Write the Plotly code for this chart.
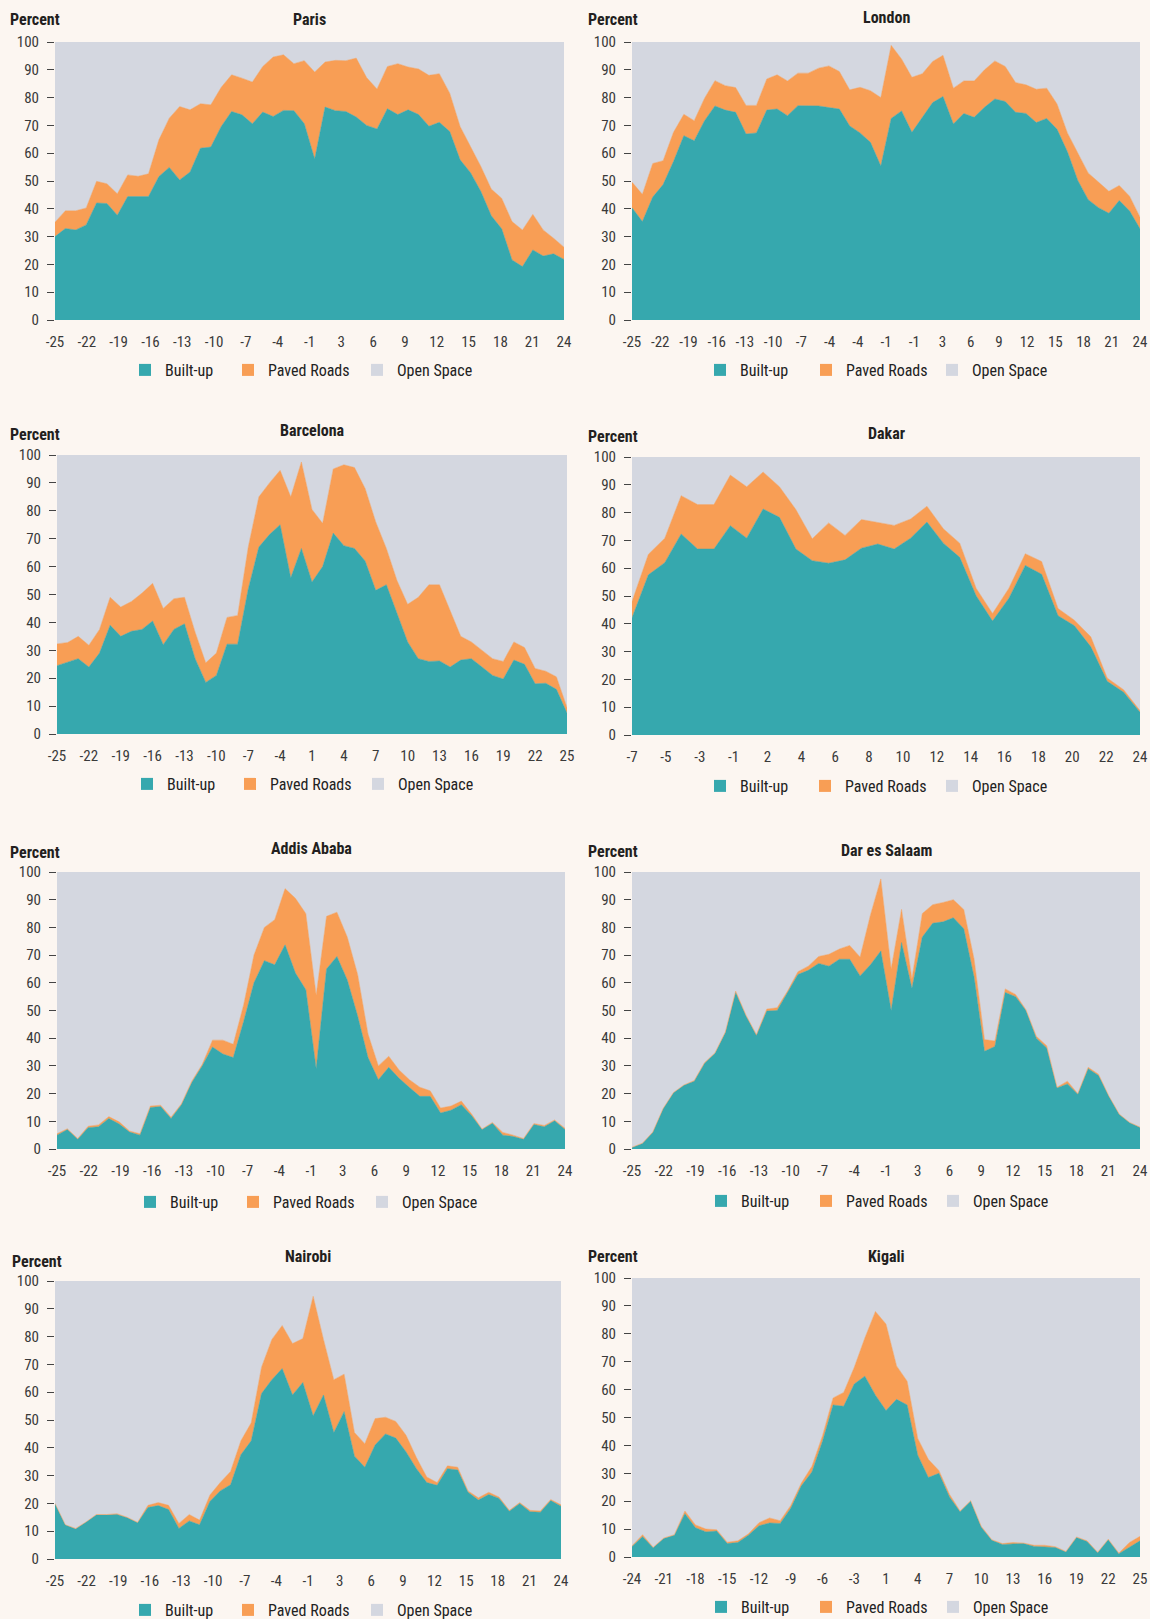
import numpy as np
import plotly.graph_objects as go

W, H = 1150, 1619
TEAL = "#36A8AE"
ORANGE = "#F89E55"
GREY = "#D4D7E0"
BG = "#FCF6F1"
FONT = "Liberation Sans Narrow, Roboto Condensed, DejaVu Sans Condensed, Arial Narrow, sans-serif"

series_names = ["Built-up", "Paved Roads", "Open Space"]

# ---------------- data (percent of area, by distance from centre) ----------------
paris_ticks = [-25, -22, -19, -16, -13, -10, -7, -4, -1, 3, 6, 9, 12, 15, 18, 21, 24]
paris_built = [30, 32.9, 32.4, 34.2, 42.1, 41.9, 37.7, 44.4, 44.4, 44.4,
               51.6, 54.9, 50.4, 53.2, 61.8, 62.2, 69.6, 75, 73.8, 70.6,
               74.8, 73.2, 75.4, 75.3, 70.6, 57.9, 76.6, 75.3, 75, 73,
               70, 68.7, 76, 73.9, 75.6, 73.9, 69.7, 71.1, 67.8, 57.6,
               53, 46.2, 37.5, 32.8, 21.6, 19.2, 25.2, 23, 23.8, 21.8]
paris_paved = [5.2, 6.4, 6.9, 6.1, 7.8, 7.1, 7.7, 7.8, 7.3, 8.2,
               13.2, 17.7, 26.4, 22.4, 16, 15.2, 14.1, 13.2, 13.2, 15,
               16.4, 21.4, 20, 16.9, 22.7, 31.3, 16.2, 18.1, 18.3, 21.2,
               17.2, 14.4, 15.2, 18.3, 15.4, 16.4, 18.3, 17.5, 13.8, 12,
               9.4, 9, 9.6, 11, 13.8, 13.2, 12.8, 9.4, 5.6, 4.4]

london_ticks = [-25, -22, -19, -16, -13, -10, -7, -4, -4, -1, -1, 3, 6, 9, 12, 15, 18, 21, 24]
london_built = [40.4, 35.4, 44.2, 48.7, 57, 66.3, 64.5, 71.7, 77, 75.5,
                74.7, 66.9, 67.3, 75.5, 75.9, 73.5, 77.1, 77, 77, 76.4,
                75.9, 69.8, 67.3, 63.9, 55.4, 72.5, 75.2, 67.5, 72.8, 78.2,
                80.4, 70.5, 74.3, 72.9, 76.5, 79.5, 78.6, 74.7, 74.3, 71,
                72.5, 68.6, 60.5, 50.2, 43.3, 40.4, 38.4, 43, 39.2, 32.8]
london_paved = [9.2, 9.8, 12.1, 8.6, 10.5, 7.7, 7.2, 8.1, 9.1, 8.8,
                8.9, 10.3, 9.9, 11.2, 12.3, 12.5, 11.7, 11.8, 13.6, 15,
                13.5, 13, 16.4, 18.6, 24.6, 26.3, 18.7, 19.8, 15.8, 14.8,
                14.8, 12.9, 11.7, 13.1, 13.5, 13.7, 12.6, 10.7, 10.3, 12,
                10.9, 9.1, 6.8, 9.7, 9.6, 9.2, 7.9, 5.4, 5.3, 4.2]

barcelona_ticks = [-25, -22, -19, -16, -13, -10, -7, -4, 1, 4, 7, 10, 13, 16, 19, 22, 25]
barcelona_built = [24.5, 25.7, 27, 24, 29, 39, 35, 36.8, 37.5, 40.5,
                   32, 37.5, 39.5, 27, 18.5, 21, 32.2, 32.2, 52, 67,
                   71.5, 75, 56, 66.5, 54.5, 60, 72, 67.5, 66.5, 62,
                   51.5, 53.5, 43, 33, 27, 26, 26.2, 24, 26.5, 27,
                   24, 21, 19.7, 26.5, 25, 18, 18.2, 16, 7.5]
barcelona_paved = [7.8, 7.1, 8, 7.8, 8.5, 10, 10.5, 10.7, 13, 13.5,
                   13, 11, 9.5, 9.5, 7, 8, 9.6, 10.3, 15, 18,
                   18.5, 19.5, 29, 31, 26, 15.5, 23, 29, 29, 26,
                   24.5, 13, 12, 13.5, 22, 27.5, 27.3, 20.5, 8.5, 6,
                   6, 6, 6.3, 6.5, 6, 5.5, 4.3, 4.5, 2]

dakar_ticks = [-7, -5, -3, -1, 2, 4, 6, 8, 10, 12, 14, 16, 18, 20, 22, 24]
dakar_built = [42.2, 57.6, 62, 72.3, 66.9, 66.9, 75.3, 70.8, 81.3, 78.3,
               66.9, 62.7, 61.8, 63, 67.2, 68.7, 66.9, 70.8, 76.6, 69,
               63.9, 50.1, 41, 49.2, 61, 57.8, 42.9, 39.3, 31.7, 19.3,
               15.4, 8.2]
dakar_paved = [5.8, 7.4, 8.8, 13.8, 16, 16, 18.2, 18.5, 13.3, 11,
               14.2, 7.9, 14.5, 8.8, 10.3, 7.7, 8.5, 6.9, 5.7, 5.2,
               5.1, 2.7, 2.7, 3.6, 4.2, 4.6, 2.6, 2, 3.6, 1.2,
               0.9, 0.6]

addis_ticks = [-25, -22, -19, -16, -13, -10, -7, -4, -1, 3, 6, 9, 12, 15, 18, 21, 24]
addis_built = [5, 7, 3.5, 7.7, 8, 11, 9, 6.1, 5, 15,
               15.3, 11, 16, 24, 30, 36.8, 34.3, 33, 46, 60,
               68, 66.5, 73.7, 63.5, 57.5, 29, 65, 69.5, 61, 48,
               33, 25, 29.5, 25.5, 22.2, 19, 19, 13, 14, 16,
               12, 7, 9.3, 5, 4.5, 3.5, 8.8, 8, 10.2, 7]
addis_paved = [0.5, 0.3, 0.3, 0.5, 0.7, 0.7, 0.8, 0.4, 0.5, 0.5,
               0.5, 0.5, 0.3, 0.5, 0.5, 2.5, 5, 4.8, 6, 10,
               12, 16.3, 20.3, 27, 27.5, 26.5, 19, 16, 15.5, 15,
               8.5, 5, 4, 3, 2.8, 3.3, 2, 1.8, 1.5, 1.3,
               0.6, 0.2, 0.3, 1, 0.5, 0.3, 0.4, 0.5, 0.3, 0.5]

dar_ticks = [-25, -22, -19, -16, -13, -10, -7, -4, -1, 3, 6, 9, 12, 15, 18, 21, 24]
dar_built = [0.5, 2, 6, 14.5, 20.3, 23, 24.5, 31, 34.5, 42,
             56.5, 48, 41, 49.8, 50, 56.5, 63, 64.5, 67, 66,
             68.5, 68.5, 62.5, 66.5, 71.5, 50, 74.5, 58, 76.5, 81.5,
             82, 83.5, 79.5, 62, 35.3, 37, 56.5, 55, 50, 40,
             36.5, 22, 23.5, 19.8, 29, 26.5, 19, 12.5, 9.5, 7.8]
dar_paved = [0.1, 0.1, 0.1, 0.1, 0.1, 0.1, 0.2, 0.2, 0.2, 0.2,
             0.5, 0.3, 0.3, 0.7, 1, 0.5, 1, 1.5, 2.5, 4.3,
             3.7, 5, 6.8, 18, 26, 15, 12, 3.5, 8.5, 6.7,
             7, 6.5, 7, 6.5, 4.2, 2, 1.3, 0.8, 0.3, 0.7,
             0.8, 0.3, 1, 0.2, 0.5, 0.5, 0.1, 0.1, 0.1, 0.1]

nairobi_ticks = [-25, -22, -19, -16, -13, -10, -7, -4, -1, 3, 6, 9, 12, 15, 18, 21, 24]
nairobi_built = [20, 12.3, 10.8, 13.2, 15.8, 15.8, 16, 14.8, 13, 18.5,
                 19.2, 17.8, 11, 13.7, 12.3, 20.7, 24.5, 26.7, 37.5, 42.5,
                 59.5, 64.5, 68.5, 59, 63.5, 51.5, 59, 45.5, 53, 37,
                 33, 41, 45, 43.5, 38.5, 32.5, 27.5, 26.5, 32.5, 32,
                 24, 21.2, 23.2, 21.8, 17.2, 20, 17, 16.8, 21, 19]
nairobi_paved = [0, 0, 0.2, 0.1, 0.2, 0.2, 0.3, 0.2, 0.2, 0.8,
                 1.1, 1.5, 1.8, 2.3, 1.7, 2.3, 3, 4.8, 5, 6.5,
                 9.5, 14.5, 15.5, 18.5, 15.8, 43, 20, 19, 13.5, 8.5,
                 8.5, 9.5, 6, 6, 6, 4, 2, 1, 1, 1,
                 0.5, 0.8, 0.8, 0.5, 0.3, 0.3, 0.5, 0.5, 0.4, 0.5]

kigali_ticks = [-24, -21, -18, -15, -12, -9, -6, -3, 1, 4, 7, 10, 13, 16, 19, 22, 25]
kigali_built = [3.8, 7.3, 3.3, 6.6, 7.8, 15.5, 10.5, 9, 9.3, 4.8,
                5.2, 7.8, 11.2, 12.2, 12, 17.5, 25.5, 30.5, 41.5, 54.5,
                54, 62, 64.8, 58, 52.5, 56.5, 54.5, 36.5, 28.5, 30,
                21.5, 16.2, 20, 10.7, 6, 4.5, 4.7, 4.8, 3.8, 3.6,
                3.4, 1.8, 7, 5.6, 1.5, 6.2, 1.2, 3.5, 5.8]
kigali_paved = [0.2, 0.7, 0.2, 0.2, 0.2, 1, 1, 1, 0.5, 0.5,
                0.6, 0.5, 1.1, 1.8, 1, 1, 1, 2, 2, 2.5,
                5, 6, 13.7, 30, 31, 12, 8.5, 6, 6.5, 1,
                1, 0.3, 0.2, 0.3, 0.2, 0.3, 0.5, 0.2, 0.4, 0.6,
                0.3, 0.2, 0.2, 0.2, 0.2, 0.2, 0.2, 1.7, 1.6]

cities = [
    ("Paris", paris_ticks, paris_built, paris_paved),
    ("London", london_ticks, london_built, london_paved),
    ("Barcelona", barcelona_ticks, barcelona_built, barcelona_paved),
    ("Dakar", dakar_ticks, dakar_built, dakar_paved),
    ("Addis Ababa", addis_ticks, addis_built, addis_paved),
    ("Dar es Salaam", dar_ticks, dar_built, dar_paved),
    ("Nairobi", nairobi_ticks, nairobi_built, nairobi_paved),
    ("Kigali", kigali_ticks, kigali_built, kigali_paved),
]

# ---------------- layout geometry (pixels) ----------------
# plot rectangles: x0, x1, y0(top), y1(bottom)
rects = [
    (55, 564, 42, 320), (632, 1140, 42, 320),
    (57, 567, 455, 734), (632, 1140, 457, 735),
    (57, 565, 872, 1149), (632, 1140, 872, 1149),
    (55, 561, 1281, 1559), (632, 1140, 1278, 1557),
]
title_y = [20, 18, 430, 433, 848, 850, 1256, 1256]
percent_pos = [(8, 20), (586, 20), (8, 434), (586, 436), (8, 852), (586, 851), (10, 1261), (586, 1256)]
# legend swatch left edges (px) for the three entries, and legend row centre y
legend_x = [(145, 248, 377), (720, 826, 952), (147, 250, 378), (720, 825, 952),
            (150, 253, 382), (721, 826, 953), (145, 248, 377), (721, 826, 953)]
legend_y = [370, 370, 784, 786, 1202, 1201, 1610, 1607]

fig = go.Figure()
layout = dict(
    template="none",
    width=W, height=H, margin=dict(l=0, r=0, t=0, b=0, autoexpand=False),
    paper_bgcolor=BG, plot_bgcolor=GREY,
    font=dict(family=FONT, color="#333333"),
    annotations=[],
)

leg_count = 0
for i, (name, ticks, built, paved) in enumerate(cities):
    k = i + 1
    xa = "x" if k == 1 else f"x{k}"
    ya = "y" if k == 1 else f"y{k}"
    n = len(built)
    xs = list(range(n))
    open_space = [round(100 - b - p, 2) for b, p in zip(built, paved)]
    colors = [TEAL, ORANGE, GREY]
    for sname, vals, col in zip(series_names, [built, paved, open_space], colors):
        fig.add_trace(go.Scatter(
            x=xs, y=vals, mode="lines", stackgroup=f"s{k}", name=sname,
            line=dict(width=0.5, color=col), fillcolor=col,
            xaxis=xa, yaxis=ya, showlegend=False, hoverinfo="skip"))
    for j, (sname, col) in enumerate(zip(series_names, colors)):
        leg_count += 1
        leg = "legend" if leg_count == 1 else f"legend{leg_count}"
        fig.add_trace(go.Scatter(
            x=[None], y=[None], mode="markers", name=sname,
            marker=dict(symbol="square", size=12, color=col, line=dict(width=0)),
            xaxis=xa, yaxis=ya, legend=leg, showlegend=True))
        layout[leg] = dict(
            orientation="h", x=(legend_x[i][j] - 20) / W, y=1 - legend_y[i] / H,
            xanchor="left", yanchor="middle", traceorder="normal",
            bgcolor="rgba(0,0,0,0)", borderwidth=0,
            font=dict(size=16, color="#222222", family=FONT),
            itemclick=False, itemdoubleclick=False,
        )

    x0, x1, y0, y1 = rects[i]
    layout["xaxis" if k == 1 else f"xaxis{k}"] = dict(
        domain=[x0 / W, x1 / W], anchor=ya, range=[0, n - 1], automargin=False,
        tickmode="array",
        tickvals=list(np.linspace(0, n - 1, len(ticks))), ticktext=[str(t) for t in ticks],
        showgrid=False, zeroline=False, showline=False, ticks="",
        tickfont=dict(size=15, color="#3a3a3a"), ticklabelstandoff=11,
    )
    layout["yaxis" if k == 1 else f"yaxis{k}"] = dict(
        domain=[1 - y1 / H, 1 - y0 / H], anchor=xa, range=[0, 100], automargin=False,
        tickmode="linear", tick0=0, dtick=10, showgrid=False, zeroline=False, showline=False,
        ticks="outside", ticklen=7, tickwidth=1.3, tickcolor="#444444",
        tickfont=dict(size=15, color="#3a3a3a"), ticklabelstandoff=5,
    )
    layout["annotations"].append(dict(
        text=name, xref="paper", yref="paper", x=(x0 + x1) / 2 / W, y=1 - title_y[i] / H,
        xanchor="center", yanchor="middle", showarrow=False,
        font=dict(size=16, color="#231F20", family=FONT, weight="bold")))
    px_, py_ = percent_pos[i]
    layout["annotations"].append(dict(
        text="Percent", xref="paper", yref="paper", x=px_ / W, y=1 - py_ / H,
        xanchor="left", yanchor="middle", showarrow=False,
        font=dict(size=16, color="#231F20", family=FONT, weight="bold")))

fig.update_layout(**layout)
fig.write_html("out.html", config={"displayModeBar": False},
               post_script="document.body.style.margin='0';")
